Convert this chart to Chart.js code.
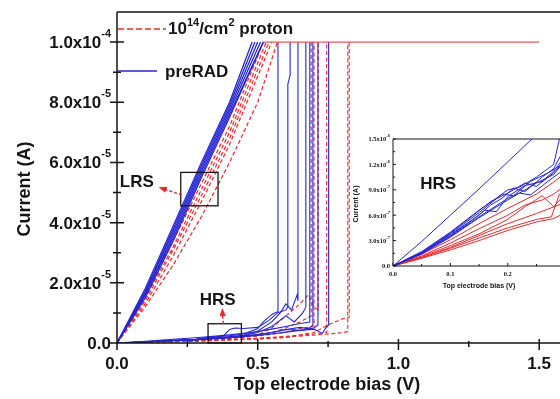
<!DOCTYPE html>
<html>
<head>
<meta charset="utf-8">
<script src="https://cdn.jsdelivr.net/npm/chart.js@4.4.1/dist/chart.umd.min.js"></script>
<style>
  html, body { margin: 0; padding: 0; background: #fff; }
  #wrap { position: relative; width: 560px; height: 399px; overflow: hidden; }
  #mainChart { position: absolute; left: 0; top: 0; }
  #insetChart { position: absolute; left: 340px; top: 130px; }
</style>
</head>
<body>
<div id="wrap">
  <canvas id="mainChart" width="560" height="399"></canvas>
  <canvas id="insetChart" width="220" height="165"></canvas>
</div>
<script>
// ---- axes: main plot
const xMax = 1.574, yMax = 1.1e-4;
const xTicks = [0, 0.5, 1.0, 1.5];
const xTickText = ['0.0', '0.5', '1.0', '1.5'];
const xMinor = [0.25, 0.75, 1.25];
const yTicks = [0, 2e-5, 4e-5, 6e-5, 8e-5, 1e-4];
const yTickText = ['0.0', '2.0x10', '4.0x10', '6.0x10', '8.0x10', '1.0x10'];
const yTickExp = ['', '-5', '-5', '-5', '-5', '-4'];
const yMinor = [1e-5, 3e-5, 5e-5, 7e-5, 9e-5];

// ---- axes: inset (HRS zoom)
const insetXMax = 0.291, insetYMax = 1.5e-6;
const insetXTicks = [0, 0.1, 0.2];
const insetXTickText = ['0.0', '0.1', '0.2'];
const insetXMinor = [0.05, 0.15, 0.25];
const insetYTicks = [0, 3e-7, 6e-7, 9e-7, 1.2e-6, 1.5e-6];
const insetYTickText = ['0.0', '3.0x10', '6.0x10', '9.0x10', '1.2x10', '1.5x10'];
const insetYTickExp = ['', '-7', '-7', '-7', '-6', '-6'];
const insetYMinor = [1.5e-7, 4.5e-7, 7.5e-7, 1.05e-6, 1.35e-6];

// ---- LRS branches, [bias V, current uA]
const preRadLrs = [
  [[0,0],[0.1,18],[0.2,39],[0.3,60],[0.4,80],[0.48,100]],
  [[0,0],[0.1,17],[0.2,38],[0.3,59],[0.4,79],[0.49,100]],
  [[0,0],[0.1,17],[0.2,37],[0.3,58],[0.4,78],[0.50,100]],
  [[0,0],[0.1,16],[0.2,36],[0.3,57],[0.4,77],[0.51,100]],
  [[0,0],[0.1,16],[0.2,35],[0.3,56],[0.4,76],[0.52,100]],
  [[0,0],[0.1,15],[0.2,34],[0.3,55],[0.4,75],[0.52,100]]
];
const protonLrs = [
  [[0,0],[0.1,16],[0.2,34],[0.3,53],[0.4,72],[0.52,100]],
  [[0,0],[0.1,15],[0.2,32],[0.3,51],[0.4,70],[0.53,100]],
  [[0,0],[0.1,14],[0.2,31],[0.3,49],[0.4,68],[0.54,100]],
  [[0,0],[0.1,13],[0.2,29],[0.3,47],[0.4,66],[0.55,100]],
  [[0,0],[0.1,12],[0.2,26],[0.3,42],[0.4,60],[0.5,80],[0.57,100]]
];

// ---- HRS branches up to the set jump, [bias V, current uA]
const preRadHrs = [
  [[0,0],[0.05,0.17],[0.1,0.40],[0.15,0.66],[0.18,0.80],[0.2,0.90],[0.22,0.93],[0.25,1.05],[0.28,1.20],[0.29,1.5],[0.33,1.9],[0.4,2.4],[0.45,3.0],[0.5,4.8],[0.52,7],[0.55,9.5],[0.572,10.5],[0.572,100]],
  [[0,0],[0.05,0.16],[0.1,0.37],[0.15,0.60],[0.17,0.72],[0.19,0.80],[0.21,0.92],[0.23,0.88],[0.26,1.05],[0.28,1.15],[0.3,1.4],[0.35,1.9],[0.38,2.5],[0.4,4.5],[0.42,5.0],[0.45,4.8],[0.5,5.2],[0.54,7.5],[0.57,10],[0.6,11],[0.607,12],[0.607,86],[0.615,89],[0.615,100]],
  [[0,0],[0.05,0.15],[0.1,0.36],[0.13,0.50],[0.16,0.66],[0.18,0.64],[0.2,0.82],[0.23,0.95],[0.26,1.0],[0.28,1.12],[0.3,1.3],[0.35,1.7],[0.4,2.1],[0.45,2.6],[0.5,4],[0.55,7],[0.58,10],[0.6,13],[0.62,11],[0.64,16],[0.643,14],[0.643,100]],
  [[0,0],[0.05,0.16],[0.1,0.38],[0.15,0.63],[0.19,0.85],[0.21,0.83],[0.24,1.0],[0.27,1.1],[0.29,1.18],[0.35,1.6],[0.4,2.0],[0.45,2.5],[0.5,3.5],[0.55,5.5],[0.6,9],[0.63,7],[0.66,10],[0.671,12],[0.671,100]],
  [[0,0],[0.05,0.29],[0.1,0.60],[0.15,0.91],[0.2,1.23],[0.242,1.5],[0.3,1.9],[0.35,2.3],[0.4,2.7],[0.45,3.2],[0.5,3.8],[0.55,4.6],[0.6,5.5],[0.65,6.5],[0.685,7],[0.685,100]],
  [[0,0],[0.05,0.15],[0.1,0.35],[0.15,0.58],[0.2,0.80],[0.22,0.86],[0.24,0.84],[0.27,1.0],[0.29,1.1],[0.35,1.4],[0.4,1.8],[0.45,2.2],[0.5,2.8],[0.55,3.5],[0.6,4.5],[0.65,5.2],[0.68,4.8],[0.696,6],[0.696,100]],
  [[0,0],[0.05,0.14],[0.1,0.34],[0.15,0.57],[0.2,0.78],[0.25,0.98],[0.28,1.08],[0.3,1.25],[0.35,1.5],[0.4,1.8],[0.45,2.1],[0.5,2.5],[0.55,3],[0.6,3.6],[0.65,4.2],[0.7,5],[0.714,6],[0.714,100]],
  [[0,0],[0.05,0.16],[0.1,0.39],[0.14,0.60],[0.17,0.76],[0.2,0.86],[0.23,0.98],[0.25,0.94],[0.28,1.1],[0.32,1.4],[0.4,1.9],[0.45,2.3],[0.5,2.8],[0.55,3.4],[0.6,4.5],[0.65,4.2],[0.7,4.6],[0.73,3.2],[0.74,4.8],[0.752,6],[0.752,100]]
];
const protonHrs = [
  [[0,0],[0.05,0.14],[0.1,0.31],[0.15,0.50],[0.2,0.68],[0.25,0.85],[0.28,0.99],[0.3,1.1],[0.35,1.3],[0.4,1.6],[0.45,2.0],[0.5,2.6],[0.55,3.5],[0.6,5],[0.65,7],[0.69,9],[0.69,100]],
  [[0,0],[0.05,0.12],[0.1,0.27],[0.15,0.44],[0.2,0.60],[0.23,0.72],[0.26,0.78],[0.28,0.85],[0.3,0.95],[0.35,1.2],[0.4,1.5],[0.45,1.9],[0.5,2.3],[0.55,2.9],[0.6,3.6],[0.65,4.8],[0.7,5.5],[0.7,100]],
  [[0,0],[0.05,0.11],[0.1,0.24],[0.15,0.38],[0.2,0.55],[0.23,0.70],[0.26,0.83],[0.28,0.70],[0.3,0.85],[0.35,1.2],[0.4,1.6],[0.45,2.0],[0.5,2.6],[0.55,5],[0.6,9],[0.65,13],[0.68,16],[0.7,12],[0.715,11],[0.715,100]],
  [[0,0],[0.05,0.10],[0.1,0.21],[0.15,0.33],[0.2,0.45],[0.25,0.55],[0.276,0.58],[0.29,0.85],[0.35,1.0],[0.4,1.2],[0.5,1.6],[0.6,2.2],[0.7,3],[0.745,3.5],[0.745,100]],
  [[0,0],[0.05,0.09],[0.1,0.19],[0.15,0.30],[0.2,0.42],[0.25,0.52],[0.28,0.56],[0.35,0.8],[0.4,1.0],[0.5,1.3],[0.6,1.8],[0.7,3.5],[0.75,6],[0.8,8],[0.825,8.5],[0.825,100]],
  [[0,0],[0.05,0.10],[0.1,0.22],[0.15,0.36],[0.2,0.50],[0.25,0.62],[0.3,0.75],[0.4,1.0],[0.5,1.4],[0.6,2.0],[0.7,2.6],[0.8,3.4],[0.82,3.8],[0.82,100]]
];

// current compliance plateau
const complianceV = [0.52, 1.5];
const complianceUA = 100;

const BLUE = '#2626d2';
const RED = '#e8282c';
const INK = '#151515';
const SANS = "'Liberation Sans', Arial, sans-serif";
const SERIF = "'Liberation Serif', 'Times New Roman', serif";

const toXY = pts => pts.map(([v, ua]) => ({ x: v, y: ua * 1e-6 }));

function trace(pts, color, dashed, width) {
  return {
    data: toXY(pts),
    showLine: true,
    borderColor: color,
    borderWidth: width,
    borderDash: dashed ? [4, 2.5] : [],
    pointRadius: 0,
    fill: false,
    tension: 0
  };
}

// frame, crossing ticks and labels with superscript exponents
const axisFrame = {
  id: 'axisFrame',
  afterDatasetsDraw(chart, args, o) {
    const { ctx, chartArea: a, scales: { x, y } } = chart;
    ctx.save();
    ctx.strokeStyle = INK;
    ctx.lineWidth = o.lineWidth;
    ctx.setLineDash([]);
    ctx.beginPath();
    ctx.moveTo(a.left, a.top); ctx.lineTo(a.right, a.top);
    ctx.moveTo(a.left, a.top); ctx.lineTo(a.left, a.bottom); ctx.lineTo(a.right, a.bottom);
    const xt = (vals, up, down) => vals.forEach(v => {
      const p = x.getPixelForValue(v);
      ctx.moveTo(p, a.bottom - up); ctx.lineTo(p, a.bottom + down);
    });
    const yt = (vals, right, left) => vals.forEach(v => {
      const p = y.getPixelForValue(v);
      ctx.moveTo(a.left - left, p); ctx.lineTo(a.left + right, p);
    });
    xt(o.xMajor, o.xMaj[0], o.xMaj[1]);
    xt(o.xMinor, o.xMin[0], o.xMin[1]);
    yt(o.yMajor, o.yMaj[0], o.yMaj[1]);
    yt(o.yMinor, o.yMin[0], o.yMin[1]);
    ctx.stroke();

    ctx.fillStyle = INK;
    ctx.textBaseline = 'alphabetic';
    // x tick labels
    ctx.font = o.xFont;
    ctx.textAlign = 'center';
    o.xMajor.forEach((v, i) => ctx.fillText(o.xText[i], x.getPixelForValue(v), a.bottom + o.xLabelDy));
    // y tick labels
    ctx.textAlign = 'right';
    o.yMajor.forEach((v, i) => {
      const p = y.getPixelForValue(v) + o.yBaseDy;
      let right = a.left - o.yLabelGap;
      if (o.yExp[i]) {
        ctx.font = o.expFont;
        ctx.fillText(o.yExp[i], right, p - o.expRise);
        right -= ctx.measureText(o.yExp[i]).width;
      }
      ctx.font = o.yFont;
      ctx.fillText(o.yText[i], right, p);
    });
    // axis titles
    ctx.font = o.titleFont;
    ctx.textAlign = 'center';
    ctx.fillText(o.xTitle, o.xTitleAt[0], o.xTitleAt[1]);
    ctx.translate(o.yTitleAt[0], o.yTitleAt[1]);
    ctx.rotate(-Math.PI / 2);
    ctx.fillText(o.yTitle, 0, 0);
    ctx.restore();
  }
};

// boxes, arrows and state labels, placed in data units
const callouts = {
  id: 'callouts',
  afterDatasetsDraw(chart, args, o) {
    const { ctx, scales: { x, y } } = chart;
    const px = v => x.getPixelForValue(v), py = v => y.getPixelForValue(v);
    ctx.save();
    ctx.strokeStyle = INK;
    ctx.lineWidth = 1.3;
    (o.boxes || []).forEach(b => {
      const x0 = px(b[0]), x1 = px(b[1]), y0 = py(b[3]), y1 = py(b[2]);
      ctx.strokeRect(x0, y0, x1 - x0, y1 - y0);
    });
    (o.arrows || []).forEach(ar => {
      const tx = px(ar[0]), ty = py(ar[1]), hx = px(ar[2]), hy = py(ar[3]);
      const ang = Math.atan2(hy - ty, hx - tx);
      ctx.strokeStyle = RED;
      ctx.lineWidth = 1.4;
      ctx.setLineDash([3, 2]);
      ctx.beginPath(); ctx.moveTo(tx, ty);
      ctx.lineTo(hx - 5 * Math.cos(ang), hy - 5 * Math.sin(ang)); ctx.stroke();
      ctx.setLineDash([]);
      ctx.fillStyle = RED;
      ctx.beginPath();
      ctx.moveTo(hx, hy);
      ctx.lineTo(hx - 8 * Math.cos(ang) + 3.2 * Math.sin(ang), hy - 8 * Math.sin(ang) - 3.2 * Math.cos(ang));
      ctx.lineTo(hx - 8 * Math.cos(ang) - 3.2 * Math.sin(ang), hy - 8 * Math.sin(ang) + 3.2 * Math.cos(ang));
      ctx.closePath(); ctx.fill();
    });
    ctx.fillStyle = INK;
    ctx.font = 'bold 17px ' + SANS;
    ctx.textAlign = 'left';
    (o.labels || []).forEach(l => ctx.fillText(l[0], px(l[1]), py(l[2])));
    ctx.restore();
  }
};

// series key at top-left of the main plot
const seriesKey = {
  id: 'seriesKey',
  afterDatasetsDraw(chart) {
    const { ctx, chartArea: a } = chart;
    ctx.save();
    ctx.lineWidth = 1.6;
    ctx.strokeStyle = RED;
    ctx.setLineDash([6, 3]);
    ctx.beginPath(); ctx.moveTo(a.left + 1, 29); ctx.lineTo(a.left + 49, 29); ctx.stroke();
    ctx.strokeStyle = BLUE;
    ctx.setLineDash([]);
    ctx.beginPath(); ctx.moveTo(a.left + 1, 71); ctx.lineTo(a.left + 40, 71); ctx.stroke();

    ctx.fillStyle = INK;
    ctx.textBaseline = 'alphabetic';
    ctx.textAlign = 'left';
    const big = 'bold 17px ' + SANS, small = 'bold 11px ' + SANS;
    let cx = a.left + 51;
    const part = (t, font, dy) => { ctx.font = font; ctx.fillText(t, cx, 34 + dy); cx += ctx.measureText(t).width; };
    part('10', big, 0); part('14', small, -8); part('/cm', big, 0); part('2', small, -8); part(' proton', big, 0);
    ctx.font = big;
    ctx.fillText('preRAD', a.left + 48, 77);
    ctx.restore();
  }
};

// ---- main chart
const mainSets = [];
preRadHrs.forEach(t => mainSets.push(trace(t, BLUE, false, 1.1)));
preRadLrs.forEach(t => mainSets.push(trace(t, BLUE, false, 1.3)));
protonHrs.forEach(t => mainSets.push(trace(t, RED, true, 1.1)));
protonLrs.forEach(t => mainSets.push(trace(t, RED, true, 1.2)));
mainSets.unshift(trace(complianceV.map(v => [v, complianceUA]), '#e65a5c', false, 1.4));

new Chart(document.getElementById('mainChart'), {
  type: 'scatter',
  data: { datasets: mainSets },
  options: {
    responsive: false,
    animation: false,
    events: [],
    layout: { padding: { left: 117, top: 12, right: 0, bottom: 56 } },
    scales: {
      x: { type: 'linear', min: 0, max: xMax, display: false },
      y: { type: 'linear', min: 0, max: yMax, display: false }
    },
    plugins: {
      legend: { display: false },
      tooltip: { enabled: false },
      axisFrame: {
        lineWidth: 1.5,
        xMajor: xTicks, xMinor: xMinor, yMajor: yTicks, yMinor: yMinor,
        xMaj: [4, 7], xMin: [2, 4], yMaj: [7, 7], yMin: [4, 4],
        xText: xTickText, yText: yTickText, yExp: yTickExp,
        xFont: 'bold 17px ' + SANS, yFont: 'bold 17px ' + SANS, expFont: 'bold 11px ' + SANS,
        xLabelDy: 26, yBaseDy: 6, yLabelGap: 6, expRise: 11,
        titleFont: 'bold 18px ' + SANS,
        xTitle: 'Top electrode bias (V)', xTitleAt: [327, 390],
        yTitle: 'Current (A)', yTitleAt: [30, 189]
      },
      callouts: {
        boxes: [[0.2265, 0.359, 4.56e-5, 5.67e-5], [0.3235, 0.442, 0, 6.4e-6]],
        arrows: [[0.23, 4.92e-5, 0.148, 5.18e-5], [0.3775, 6.4e-6, 0.374, 1.16e-5]],
        labels: [['LRS', 0.01, 5.19e-5], ['HRS', 0.294, 1.27e-5]]
      }
    }
  },
  plugins: [axisFrame, callouts, seriesKey]
});

// ---- inset: HRS branches at low bias
const insetSets = [];
preRadHrs.forEach(t => insetSets.push(trace(t, BLUE, false, 1.0)));
protonHrs.forEach(t => insetSets.push(trace(t, RED, false, 1.0)));

new Chart(document.getElementById('insetChart'), {
  type: 'scatter',
  data: { datasets: insetSets },
  options: {
    responsive: false,
    animation: false,
    events: [],
    layout: { padding: { left: 53, top: 9, right: 0, bottom: 29 } },
    scales: {
      x: { type: 'linear', min: 0, max: insetXMax, display: false },
      y: { type: 'linear', min: 0, max: insetYMax, display: false }
    },
    plugins: {
      legend: { display: false },
      tooltip: { enabled: false },
      axisFrame: {
        lineWidth: 1,
        xMajor: insetXTicks, xMinor: insetXMinor, yMajor: insetYTicks, yMinor: insetYMinor,
        xMaj: [3, 0], xMin: [2, 0], yMaj: [3, 0], yMin: [2, 0],
        xText: insetXTickText, yText: insetYTickText, yExp: insetYTickExp,
        xFont: 'bold 6.5px ' + SERIF, yFont: 'bold 6.5px ' + SERIF, expFont: 'bold 4.5px ' + SERIF,
        xLabelDy: 10, yBaseDy: 2.3, yLabelGap: 3, expRise: 4,
        titleFont: 'bold 7px ' + SANS,
        xTitle: 'Top electrode bias (V)', xTitleAt: [139, 158],
        yTitle: 'Current (A)', yTitleAt: [18, 74]
      },
      callouts: {
        labels: [['HRS', 0.0475, 9.14e-7]]
      }
    }
  },
  plugins: [axisFrame, callouts]
});
</script>
</body>
</html>
